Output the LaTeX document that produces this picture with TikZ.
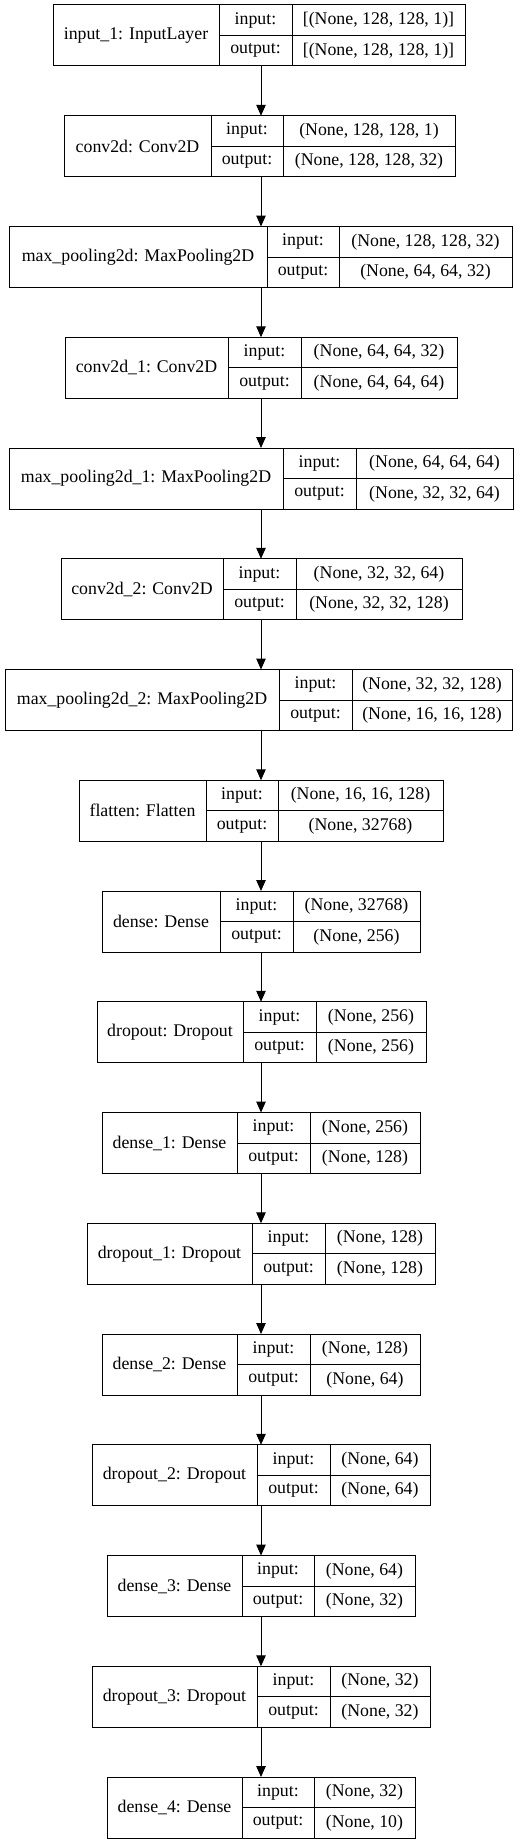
\documentclass[tikz,border=0pt]{standalone}
\usepackage{fontspec}
\setmainfont{Liberation Serif}
\usetikzlibrary{arrows.meta}
\tikzset{
  cell/.style={draw=black, line width=1pt, rectangle, inner sep=0pt, outer sep=0pt,
    font=\fontsize{17.8pt}{21pt}\selectfont, text=black, align=center},
  arr/.style={draw=black, line width=1pt, -{Triangle[length=11pt,width=9.5pt]}}
}
\newcommand{\layerbox}[8]{%
  \node[cell, anchor=north west, minimum width={(#3-#2)*1pt}, minimum height=61pt] (L#1) at (#2,{5+110.75*#1}) {#6};
  \node[cell, anchor=north west, minimum width={(#4-#3)*1pt}, minimum height=30.5pt] (L#1ik) at (#3,{5+110.75*#1}) {input:};
  \node[cell, anchor=north west, minimum width={(#4-#3)*1pt}, minimum height=30.5pt] (L#1ok) at (L#1ik.south west) {output:};
  \node[cell, anchor=north west, minimum width={(#5-#4)*1pt}, minimum height=30.5pt] (L#1iv) at (L#1ik.north east) {#7};
  \node[cell, anchor=north west, minimum width={(#5-#4)*1pt}, minimum height=30.5pt] (L#1ov) at (L#1iv.south west) {#8};
}
\begin{document}
\begin{tikzpicture}[x=1pt, y=-1pt]
\useasboundingbox[fill=white] (0,0) rectangle (527,1844);
\coordinate (axis) at (261,0);
\layerbox{0}{53}{219}{292}{465}{input\_1: InputLayer}{[(None, 128, 128, 1)]}{[(None, 128, 128, 1)]}
\layerbox{1}{64}{211}{283}{455}{conv2d: Conv2D}{(None, 128, 128, 1)}{(None, 128, 128, 32)}
\layerbox{2}{9}{267}{339}{512}{max\_pooling2d: MaxPooling2D}{(None, 128, 128, 32)}{(None, 64, 64, 32)}
\layerbox{3}{65}{228}{301}{457}{conv2d\_1: Conv2D}{(None, 64, 64, 32)}{(None, 64, 64, 64)}
\layerbox{4}{9}{283}{356}{513}{max\_pooling2d\_1: MaxPooling2D}{(None, 64, 64, 64)}{(None, 32, 32, 64)}
\layerbox{5}{61}{223}{296}{462}{conv2d\_2: Conv2D}{(None, 32, 32, 64)}{(None, 32, 32, 128)}
\layerbox{6}{5}{279}{352}{512}{max\_pooling2d\_2: MaxPooling2D}{(None, 32, 32, 128)}{(None, 16, 16, 128)}
\layerbox{7}{79}{206}{278}{443}{flatten: Flatten}{(None, 16, 16, 128)}{(None, 32768)}
\layerbox{8}{102}{220}{293}{420}{dense: Dense}{(None, 32768)}{(None, 256)}
\layerbox{9}{97}{243}{316}{426}{dropout: Dropout}{(None, 256)}{(None, 256)}
\layerbox{10}{102}{237}{310}{420}{dense\_1: Dense}{(None, 256)}{(None, 128)}
\layerbox{11}{87}{252}{325}{435}{dropout\_1: Dropout}{(None, 128)}{(None, 128)}
\layerbox{12}{102}{237}{310}{420}{dense\_2: Dense}{(None, 128)}{(None, 64)}
\layerbox{13}{92}{257}{330}{430}{dropout\_2: Dropout}{(None, 64)}{(None, 64)}
\layerbox{14}{107}{242}{314}{415}{dense\_3: Dense}{(None, 64)}{(None, 32)}
\layerbox{15}{92}{257}{330}{430}{dropout\_3: Dropout}{(None, 32)}{(None, 32)}
\layerbox{16}{107}{242}{314}{415}{dense\_4: Dense}{(None, 32)}{(None, 10)}
\foreach \a/\b in {0/1,1/2,2/3,3/4,4/5,5/6,6/7,7/8,8/9,9/10,10/11,11/12,12/13,13/14,14/15,15/16}{
  \draw[arr] (L\a.south -| axis) -- (L\b.north -| axis);
}
\end{tikzpicture}
\end{document}
